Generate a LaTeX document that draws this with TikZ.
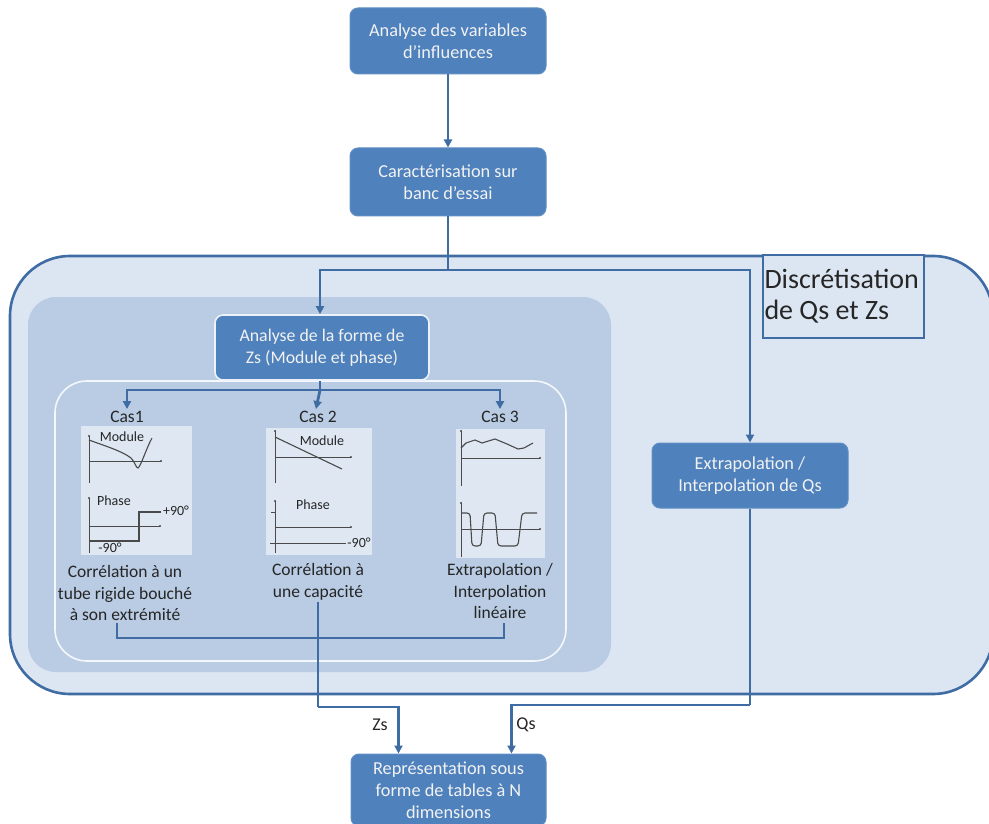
\documentclass[tikz,border=0pt]{standalone}
\usepackage{fontspec}
\setmainfont{Carlito}
\usetikzlibrary{arrows.meta}
\definecolor{boxblue}{HTML}{4F81BD}
\definecolor{lineblue}{HTML}{3F6CA3}
\definecolor{outerfill}{HTML}{DCE6F2}
\definecolor{innerfill}{HTML}{B9CCE4}
\definecolor{panelfill}{HTML}{DEE7F2}
\definecolor{txt}{HTML}{262626}
\definecolor{boxtxt}{HTML}{F2F2F2}
\definecolor{gline}{HTML}{4A4A4A}
\tikzset{
  bluebox/.style={fill=boxblue, draw=boxblue!90!white, line width=1pt, rounded corners=8pt,
    text=boxtxt, align=center, font=\fontsize{18.3}{22}\selectfont, inner sep=0pt},
  conn/.style={draw=lineblue, line width=2.8pt},
  arr/.style={-{Triangle[length=8pt,width=8pt]}},
  casetext/.style={text=txt, align=center, font=\fontsize{17.5}{21.5}\selectfont, inner sep=0pt},
  glabel/.style={text=txt, font=\fontsize{14}{14}\selectfont, inner sep=0pt},
  panel/.style={fill=panelfill, inner sep=0pt, draw=none},
  gaxis/.style={draw=gline, line width=0.8pt},
  gcurve/.style={draw=gline, line width=1.1pt},
  gdot/.style={fill=gline, draw=none},
}
\begin{document}
\begin{tikzpicture}[x=1pt,y=-1pt]
\useasboundingbox (0,0) rectangle (989,824);
\fill[white] (0,0) rectangle (989,824);

% containers
\node[fill=outerfill, draw=lineblue, line width=2.6pt, rounded corners=60pt,
      minimum width=983pt, minimum height=438pt, inner sep=0pt] (outer) at (501.5,475) {};
\node[fill=innerfill, rounded corners=28pt, minimum width=583pt, minimum height=375pt, inner sep=0pt] (inner) at (319.5,484.5) {};
\node[fill=innerfill, draw=white!85!innerfill, line width=1.6pt, rounded corners=32pt,
      minimum width=511pt, minimum height=280pt, inner sep=0pt] (cases) at (310.5,521) {};

\node[draw=lineblue, line width=1.3pt, fill=outerfill, minimum width=161pt, minimum height=83pt,
      text width=158pt, align=flush left, inner sep=1.5pt, text=txt,
      font=\fontsize{28}{31}\selectfont] (disc) at (843.5,296.5) {Discrétisation\\de Qs et Zs};

% main boxes
\node[bluebox, minimum width=196pt, minimum height=66pt] (b1) at (448,41) {Analyse des variables\\d’influences};
\node[bluebox, minimum width=196pt, minimum height=68pt] (b2) at (448,182) {Caractérisation sur\\banc d’essai};
\node[bluebox, draw=white!90!boxblue, line width=1.6pt, minimum width=214pt, minimum height=65pt,
      font=\fontsize{17.8}{22}\selectfont] (b3) at (322,347.5) {Analyse de la forme de\\Zs (Module et phase)};
\node[bluebox, minimum width=196pt, minimum height=65pt] (b4) at (750,475.5) {Extrapolation /\\Interpolation de Qs};
\node[bluebox, minimum width=195pt, minimum height=72pt] (b5) at (448.5,790) {Représentation sous\\forme de tables à N\\dimensions};

% case labels
\node[casetext] (cas1) at (127,417) {Cas1};
\node[casetext] (cas2) at (318,417) {Cas 2};
\node[casetext] (cas3) at (500,417) {Cas 3};

% panels
\node[panel, minimum width=111pt, minimum height=129pt] (p1) at (136.5,490.5) {};
\node[panel, minimum width=106pt, minimum height=127pt] (p2) at (319,491.5) {};
\node[panel, minimum width=89pt, minimum height=129pt] (p3) at (500.5,493.5) {};

% case texts
\node[casetext] (t1) at (125,593) {Corrélation à un\\tube rigide bouché\\à son extrémité};
\node[casetext] (t2) at (318,582) {Corrélation à\\une capacité};
\node[casetext] (t3) at (500,591) {Extrapolation /\\Interpolation\\linéaire};

% labels Zs Qs
\node[text=txt, font=\fontsize{18}{18}\selectfont, inner sep=0pt] (zs) at (380,725) {Zs};
\node[text=txt, font=\fontsize{18}{18}\selectfont, inner sep=0pt] (qs) at (526,725) {Qs};

% coordinates
\coordinate (j1) at (448,270);
\coordinate (j2) at (320,390);
\coordinate (jb) at (318,638);
\coordinate (zsb) at (318,707);
\coordinate (qsb) at (750,705);

% connectors
\draw[conn, arr] (b1) -- (b2);
\draw[conn] (b2.south) -- (j1);
\draw[conn, arr] (j1) -| ([xshift=-2pt]b3.north);
\draw[conn, arr] (j1) -| (b4.north);
\draw[conn] ([xshift=-2pt]b3.south) -- (j2);
\draw[conn, arr] (j2) -| ([yshift=2pt]cas1.north);
\draw[conn, arr] (j2) -| ([yshift=2pt]cas3.north);
\draw[conn, arr] (j2) -- ([xshift=-2pt,yshift=2pt]cas2.north);
\draw[conn] ([xshift=-8pt,yshift=-2pt]t1.south) |- (jb) -| ([xshift=4pt,yshift=-4pt]t3.south);
\draw[conn] ([yshift=-2pt]t2.south) -- (zsb);
\draw[conn, arr] (zsb) -| ([xshift=-50pt]b5.north);
\draw[conn] (b4.south) -- (qsb);
\draw[conn, arr] (qsb) -| ([xshift=63pt]b5.north);

% ---- graph Cas1
\draw[gaxis] (89,436) -- (89,483);
\fill[gdot] (89,436) circle (1.2pt);
\draw[gaxis] (89,461) -- (161,461);
\fill[gdot] (161,461) circle (1.2pt);
\node[glabel] (m1) at (122,437) {Module};
\draw[gcurve] (89,440) .. controls (105,446) and (122,451) .. (131,458)
   .. controls (135,462) and (136,468) .. (138,468)
   .. controls (141,466) and (146,449) .. (152,438);
\draw[gaxis] (89,498) -- (89,553);
\fill[gdot] (89,498) circle (1.2pt);
\node[glabel] (ph1) at (114,501) {Phase};
\draw[gaxis] (89,526) -- (160,526);
\fill[gdot] (160,526) circle (1.2pt);
\draw[gcurve] (89,541) -- (139,541) -- (139,512) -- (161,512);
\node[glabel] (l90a) at (176,511) {+90°};
\node[glabel] (l90b) at (110,548) {-90°};

% ---- graph Cas2
\draw[gaxis] (275,431) -- (275,483);
\fill[gdot] (275,431) circle (1.2pt);
\draw[gaxis] (275,457) -- (351,457);
\fill[gdot] (351,457) circle (1.2pt);
\node[glabel] (m2) at (322,441) {Module};
\draw[gcurve] (275,437) -- (342,469);
\draw[gaxis] (275,501) -- (275,553);
\fill[gdot] (275,501) circle (1.2pt);
\draw[gaxis] (271,512) -- (275,512);
\node[glabel] (ph2) at (313,505) {Phase};
\draw[gaxis] (275,527) -- (351,527);
\fill[gdot] (351,527) circle (1.2pt);
\draw[gaxis] (270,543) -- (346,543);
\node[glabel] (l90c) at (359,543) {-90°};

% ---- graph Cas3
\draw[gaxis] (461,431) -- (461,486);
\fill[gdot] (461,431) circle (1.2pt);
\draw[gaxis] (461,458) -- (540,458);
\fill[gdot] (540,458) circle (1.2pt);
\draw[gcurve] (461,448) -- (466,443) -- (475,440) -- (482,443) -- (495,439) -- (507,444) -- (518,449) -- (524,448) -- (533,443);
\draw[gaxis] (461,503) -- (461,557);
\fill[gdot] (461,503) circle (1.2pt);
\draw[gaxis] (461,529) -- (540,529);
\fill[gdot] (540,529) circle (1.2pt);
\draw[gcurve, rounded corners=3pt] (461,513) -- (470,513) -- (472,546) -- (481,546) -- (484,513) -- (495,513) -- (498,546) -- (518,546) -- (522,513) -- (537,513);
\end{tikzpicture}
\end{document}
